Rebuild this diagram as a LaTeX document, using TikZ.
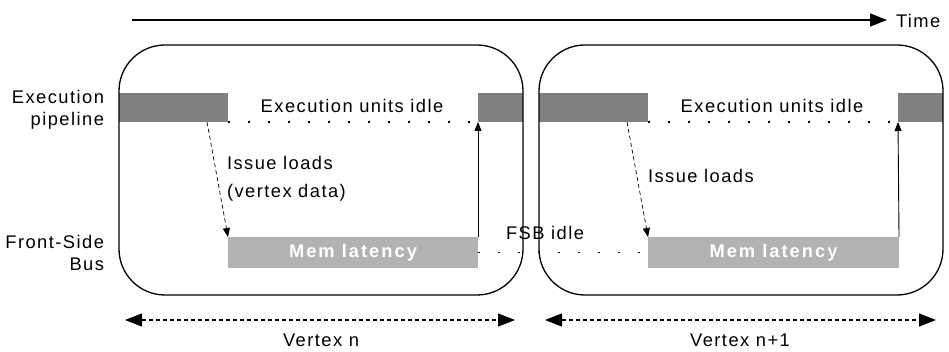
\documentclass[tikz,border=0pt]{standalone}
\usepackage{fontspec}
\setmainfont{Liberation Sans}[LetterSpace=8]
\usetikzlibrary{arrows.meta}
\definecolor{execgray}{HTML}{808080}
\definecolor{memgray}{HTML}{B2B2B2}
\begin{document}
\begin{tikzpicture}[x=1pt,y=-1pt,
  font=\fontsize{18.3}{22}\selectfont,
  vbox/.style={draw, line width=1.3pt, rounded corners=46pt, minimum width=#1, minimum height=250pt, anchor=north west, inner sep=0pt, outer sep=0pt},
  execbar/.style={fill=execgray, minimum width=#1, minimum height=29pt, anchor=north west, inner sep=0pt, outer sep=0pt},
  membar/.style={fill=memgray, minimum width=#1, minimum height=31pt, anchor=north west, inner sep=0pt, outer sep=0pt, text=white, font=\fontsize{18.3}{22}\selectfont\bfseries\addfontfeature{LetterSpace=11}},
  dotline/.style={line width=1.5pt, dash pattern=on 1.5pt off 18.5pt},
  issue/.style={line width=0.7pt, dash pattern=on 4pt off 3pt, -{Triangle[length=9pt,width=7pt]}},
  uparrow/.style={line width=0.9pt, -{Triangle[length=9pt,width=7pt]}},
  timearrow/.style={line width=1.3pt, -{Triangle[length=17pt,width=13pt]}},
  vertarrow/.style={line width=1.3pt, dash pattern=on 4pt off 3pt, {Triangle[length=17pt,width=13pt]}-{Triangle[length=17pt,width=13pt]}},
  lbl/.style={inner sep=0pt, outer sep=0pt}
]
\useasboundingbox (0,0) rectangle (949,352);

% time arrow
\coordinate (t0) at (132,20);
\node[lbl, anchor=west] (time) at (896,21) {Time};
\draw[timearrow, shorten >=9pt] (t0) -- (t0 -| time.west);

% side labels
\node[lbl, anchor=east, align=right] (pipe) at (104,110) {Execution\\pipeline};
\node[lbl, anchor=east, align=right] (fsb) at (104,253) {Front-Side\\Bus};

% bars
\node[execbar=109pt] (e1) at (119,93) {};
\node[execbar=45pt]  (e2) at (478,93) {};
\node[execbar=109pt] (e3) at (539,93) {};
\node[execbar=45pt]  (e4) at (898,93) {};
\node[membar=250pt] (m1) at (228,237) {Mem latency};
\node[membar=251pt] (m2) at (648,237) {Mem latency};

% boxes
\node[vbox=404pt] (b1) at (119,45) {};
\node[vbox=404pt] (b2) at (539,45) {};

% idle dotted lines
\draw[dotline] (e1.south east) -- (e2.south west);
\draw[dotline] (e3.south east) -- (e4.south west);
\draw[dotline] (m1.east) -- (m2.west);

% texts
\node[lbl, anchor=base] (idle1) at (352,113) {Execution units idle};
\node[lbl, anchor=base] (idle2) at (772,113) {Execution units idle};
\node[lbl, anchor=base west] (iss1) at (227,170) {Issue loads};
\node[lbl, anchor=base west] (vd1) at (227,198) {(vertex data)};
\node[lbl, anchor=base west] (iss2) at (648,183) {Issue loads};
\node[lbl, anchor=base] (fsbidle) at (545,240) {FSB idle};

% connectors
\draw[issue] ([xshift=88pt]e1.south west) -- (m1.north west);
\draw[issue] ([xshift=88pt]e3.south west) -- (m2.north west);
\draw[uparrow] (m1.north east) -- (e2.south west);
\draw[uparrow] (m2.north east) -- (e4.south west);

% vertex spans
\coordinate (v1a) at (125,320);
\coordinate (v1b) at (515,320);
\coordinate (v2a) at (545,320);
\coordinate (v2b) at (936,320);
\draw[vertarrow] (v1a) -- (v1b);
\draw[vertarrow] (v2a) -- (v2b);
\node[lbl, anchor=base] (vn) at (321,346) {Vertex n};
\node[lbl, anchor=base] (vn1) at (740,346) {Vertex n+1};
\end{tikzpicture}
\end{document}
